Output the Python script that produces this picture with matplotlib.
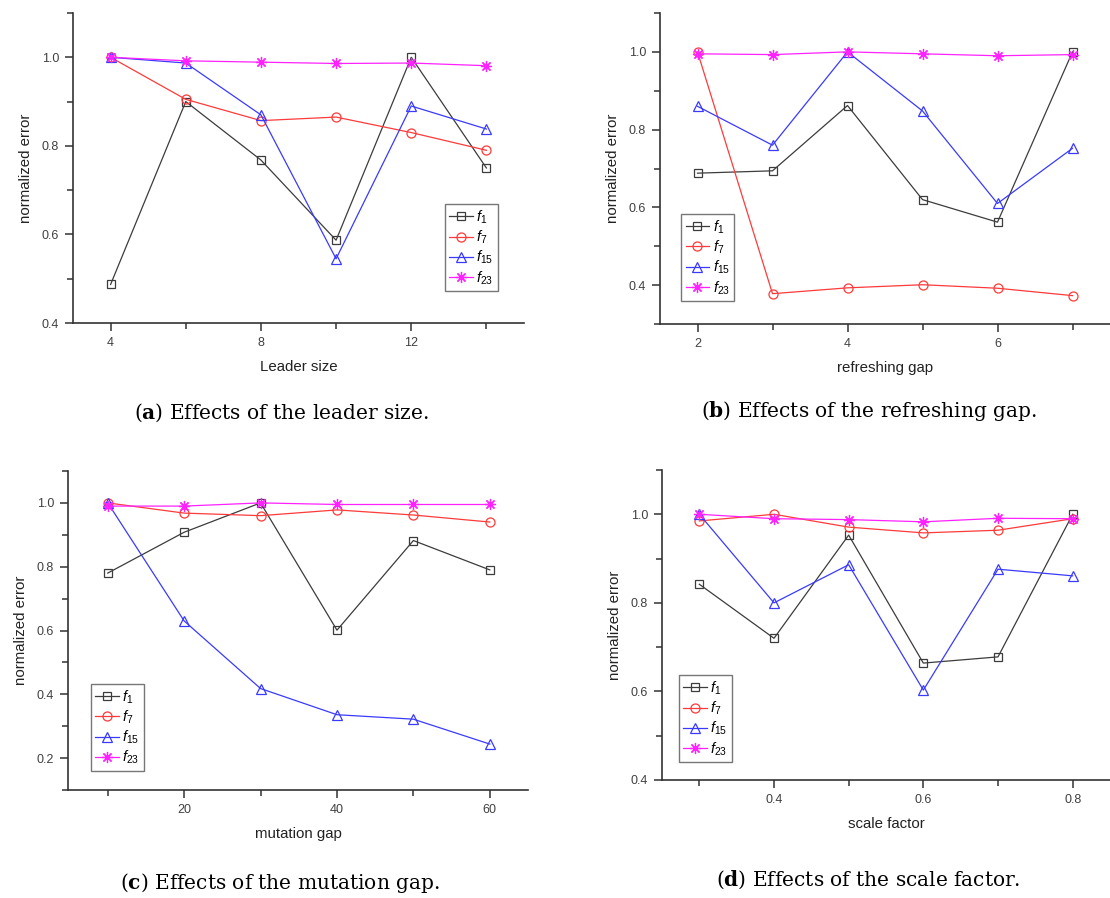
import matplotlib
matplotlib.use('Agg')
import matplotlib.pyplot as plt
from matplotlib.ticker import MultipleLocator, FixedLocator, FormatStrFormatter

plt.rcParams['font.family'] = ['Liberation Sans', 'DejaVu Sans']
plt.rcParams['mathtext.fontset'] = 'custom'
plt.rcParams['mathtext.it'] = 'Liberation Sans:italic'
plt.rcParams['mathtext.rm'] = 'Liberation Sans'

# (a) leader size
leader_x = [4, 6, 8, 10, 12, 14]
leader_f1 = [0.487, 0.900, 0.768, 0.587, 1.000, 0.750]
leader_f7 = [1.000, 0.905, 0.857, 0.865, 0.830, 0.790]
leader_f15 = [1.000, 0.987, 0.870, 0.545, 0.890, 0.838]
leader_f23 = [1.000, 0.992, 0.989, 0.986, 0.987, 0.981]

# (b) refreshing gap
refresh_x = [2, 3, 4, 5, 6, 7]
refresh_f1 = [0.688, 0.694, 0.862, 0.620, 0.562, 1.000]
refresh_f7 = [1.000, 0.378, 0.393, 0.401, 0.392, 0.373]
refresh_f15 = [0.860, 0.760, 1.000, 0.848, 0.610, 0.752]
refresh_f23 = [0.995, 0.993, 1.000, 0.995, 0.990, 0.993]

# (c) mutation gap
mutation_x = [10, 20, 30, 40, 50, 60]
mutation_f1 = [0.780, 0.908, 1.000, 0.601, 0.882, 0.790]
mutation_f7 = [1.000, 0.968, 0.960, 0.978, 0.962, 0.940]
mutation_f15 = [1.000, 0.630, 0.418, 0.336, 0.322, 0.244]
mutation_f23 = [0.990, 0.990, 1.000, 0.995, 0.995, 0.995]

# (d) scale factor
scale_x = [0.3, 0.4, 0.5, 0.6, 0.7, 0.8]
scale_f1 = [0.842, 0.720, 0.953, 0.664, 0.678, 1.000]
scale_f7 = [0.985, 1.000, 0.971, 0.958, 0.964, 0.990]
scale_f15 = [1.000, 0.800, 0.886, 0.603, 0.876, 0.861]
scale_f23 = [1.000, 0.990, 0.988, 0.983, 0.991, 0.990]

labels = [r'$f_{1}$', r'$f_{7}$', r'$f_{15}$', r'$f_{23}$']
styles = [
    dict(color='#3c3c3c', marker='s', ms=6.0),
    dict(color='#ff3a3a', marker='o', ms=6.5),
    dict(color='#3a3aff', marker='^', ms=7.0),
    dict(color='#ff22ff', marker=(8, 2, 0), ms=8.0),
]

W, H = 1110, 898
fig = plt.figure(figsize=(W / 100, H / 100), dpi=100)


def make_axes(left, top, right, bottom):
    return fig.add_axes([left / W, 1 - bottom / H, (right - left) / W, (bottom - top) / H])


def draw_panel(ax, x, series, xlim, ylim, xmajor, xlabel, legend_loc):
    for ys, lab, st in zip(series, labels, styles):
        ax.plot(x, ys, color=st['color'], marker=st['marker'], mfc='none',
                mec=st['color'], ms=st['ms'], mew=0.9, lw=0.9, label=lab)
    ax.set_xlim(*xlim)
    ax.set_ylim(*ylim)
    ax.xaxis.set_major_locator(FixedLocator(xmajor))
    ax.xaxis.set_minor_locator(FixedLocator([v for v in x if v not in xmajor]))
    ax.yaxis.set_major_locator(MultipleLocator(0.2))
    ax.yaxis.set_minor_locator(MultipleLocator(0.1))
    ax.yaxis.set_major_formatter(FormatStrFormatter('%.1f'))
    ax.spines['top'].set_visible(False)
    ax.spines['right'].set_visible(False)
    for s in ('left', 'bottom'):
        ax.spines[s].set_linewidth(1.2)
        ax.spines[s].set_color('#333333')
    ax.tick_params(which='both', direction='out', colors='#333333', labelsize=9,
                   labelcolor='#404040')
    ax.tick_params(which='major', length=6, width=1.1, pad=4)
    ax.tick_params(which='minor', length=4, width=1.1)
    ax.set_xlabel(xlabel, fontsize=10.8, color='#222222', labelpad=8)
    ax.set_ylabel('normalized error', fontsize=10.8, color='#222222', labelpad=6)
    ax.patch.set_alpha(0)
    leg = ax.legend(loc='lower left', bbox_to_anchor=legend_loc, fontsize=10.5,
                    frameon=True, fancybox=False, edgecolor='#555555',
                    handlelength=1.6, handletextpad=0.25, borderpad=0.3,
                    labelspacing=0.2, borderaxespad=0)
    leg.get_frame().set_linewidth(1.0)


ax_a = make_axes(73, 13, 524, 323)
draw_panel(ax_a, leader_x, [leader_f1, leader_f7, leader_f15, leader_f23],
           (3.0, 15.0), (0.4, 1.1), [4, 8, 12], 'Leader size', (0.825, 0.103))

ax_b = make_axes(660, 13, 1110, 324)
draw_panel(ax_b, refresh_x, [refresh_f1, refresh_f7, refresh_f15, refresh_f23],
           (1.5, 7.5), (0.3, 1.1), [2, 4, 6], 'refreshing gap', (0.047, 0.074))

ax_c = make_axes(68, 471, 528, 790)
draw_panel(ax_c, mutation_x, [mutation_f1, mutation_f7, mutation_f15, mutation_f23],
           (4.8, 65), (0.1, 1.1), [20, 40, 60], 'mutation gap', (0.05, 0.06))

ax_d = make_axes(662, 470, 1110, 780)
draw_panel(ax_d, scale_x, [scale_f1, scale_f7, scale_f15, scale_f23],
           (0.25, 0.85), (0.4, 1.1), [0.4, 0.6, 0.8], 'scale factor', (0.038, 0.058))

captions = [
    (281, 413, 'a', ' Effects of the leader size.'),
    (869, 411, 'b', ' Effects of the refreshing gap.'),
    (280, 883, 'c', ' Effects of the mutation gap.'),
    (868, 880, 'd', ' Effects of the scale factor.'),
]
for cx, cy, letter, rest in captions:
    fig.text(cx / W, 1 - cy / H,
             r'($\mathbf{' + letter + r'}$)' + rest,
             ha='center', va='center', fontsize=14.5, family='DejaVu Serif',
             math_fontfamily='dejavuserif')

fig.savefig('out.png', dpi=100, facecolor='white')
